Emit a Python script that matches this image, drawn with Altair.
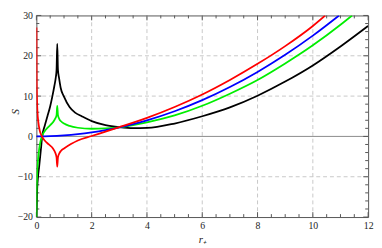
import altair as alt
import pandas as pd

# ---- data ----
red_r = [0.003, 0.006, 0.01, 0.02, 0.04, 0.07, 0.12, 0.2, 0.3, 0.45, 0.6, 0.68, 0.73, 0.755,
         0.78, 0.83, 0.9, 1.0, 1.25, 1.5, 2.0, 2.5, 3.0, 3.5, 4.0, 5.0, 6.0, 7.0, 8.0, 9.0, 10.0, 10.45]
red_S = [27.0, 21.0, 15.0, 10.0, 6.0, 3.6, 1.5, 0.0, -1.0, -2.0, -3.0, -4.0, -5.2, -7.5,
         -5.2, -4.2, -3.5, -3.0, -1.9, -1.0, 0.1, 1.2, 2.3, 3.4, 4.6, 7.3, 10.4, 14.0, 18.0, 22.4, 27.4, 30.0]

blue_r = [0.0, 0.5, 1.0, 1.5, 2.0, 2.5, 3.0, 3.5, 4.0, 5.0, 6.0, 7.0, 8.0, 9.0, 10.0, 10.95]
blue_S = [0.0, 0.06, 0.25, 0.56, 1.0, 1.56, 2.25, 3.06, 4.0, 6.25, 9.0, 12.25, 16.0, 20.25, 25.0, 30.0]

green_r = [0.003, 0.01, 0.03, 0.06, 0.1, 0.15, 0.2, 0.3, 0.4, 0.5, 0.6, 0.68, 0.73, 0.755,
           0.78, 0.83, 0.9, 1.0, 1.2, 1.5, 2.0, 2.5, 3.0, 3.5, 4.0, 5.0, 6.0, 7.0, 8.0, 9.0, 10.0, 11.0, 11.42]
green_S = [-20.0, -14.0, -9.0, -5.8, -3.2, -1.2, 0.0, 1.3, 2.1, 2.8, 3.5, 4.4, 5.3, 7.6,
           5.3, 4.3, 3.7, 3.2, 2.6, 2.15, 1.9, 2.0, 2.25, 2.8, 3.5, 5.2, 7.6, 10.6, 14.0, 18.1, 22.6, 27.7, 30.0]

black_r = [0.005, 0.03, 0.06, 0.1, 0.16, 0.21, 0.3, 0.4, 0.5, 0.58, 0.65, 0.7, 0.73, 0.755,
           0.78, 0.82, 0.88, 0.99, 1.2, 1.4, 1.64, 2.0, 2.5, 3.0, 3.5, 4.0, 5.0, 6.0, 7.0, 8.0, 9.0, 10.0, 11.0, 12.0]
black_S = [-20.0, -13.0, -10.0, -7.5, -3.5, 0.0, 2.6, 5.0, 7.5, 10.0, 12.5, 14.5, 16.5, 23.0,
           16.5, 14.5, 12.0, 10.0, 7.3, 5.9, 5.0, 3.8, 2.8, 2.3, 2.05, 2.1, 3.2, 5.0, 7.2, 10.1, 13.6, 17.6, 22.3, 27.4]

series_names = ["black", "green", "blue", "red"]
series_colors = ["#000000", "#00ee00", "#0000ff", "#ff0000"]

x_major = [0, 2, 4, 6, 8, 10, 12]
y_major = [-20, -10, 0, 10, 20, 30]
x_grid = [2, 4, 6, 8, 10]
y_grid = [-10, 10, 20]
x_minor = [v * 0.5 for v in range(0, 25) if v % 4 != 0]
y_minor = [v for v in range(-20, 31, 2) if v % 10 != 0]

rows = []
for name, xs_, ys_ in [("black", black_r, black_S), ("green", green_r, green_S),
                       ("blue", blue_r, blue_S), ("red", red_r, red_S)]:
    for i, (a, b) in enumerate(zip(xs_, ys_)):
        rows.append({"series": name, "r": a, "S": b, "i": i})
df = pd.DataFrame(rows)

W, H = 339, 206
FRAME = "#555555"
FONT = "Liberation Serif"
TXT = "#222222"

xs = alt.Scale(domain=[0, 12], nice=False, zero=False)
ys = alt.Scale(domain=[-20, 30], nice=False, zero=False)

AX = alt.Axis(
    values=x_major, ticks=False, domain=False, grid=False, labelFlush=False,
    labelFont=FONT, labelFontSize=10, labelColor=TXT, labelPadding=4,
    title="r₊", titleFont=FONT, titleFontStyle="italic", titleFontWeight="normal",
    titleFontSize=11, titleColor=TXT, titlePadding=3)
AY = alt.Axis(
    values=y_major, ticks=False, domain=False, grid=False, labelFlush=False,
    labelFont=FONT, labelFontSize=10, labelColor=TXT, labelPadding=4,
    title="S", titleFont=FONT, titleFontStyle="italic", titleFontWeight="normal",
    titleFontSize=11, titleColor=TXT, titleX=-16, titleY=H / 2 - 5)

def X(f):
    return alt.X(f, scale=xs, axis=AX, title="r₊")

def Y(f):
    return alt.Y(f, scale=ys, axis=AY, title="S")

def vdf(vals):
    return pd.DataFrame({"v": vals})

gridx = alt.Chart(vdf(x_grid)).mark_rule(color="#c8c8c8", strokeDash=[4, 3], strokeWidth=1).encode(
    x=X("v:Q"))
gridy = alt.Chart(vdf(y_grid)).mark_rule(color="#c8c8c8", strokeDash=[4, 3], strokeWidth=1).encode(
    y=Y("v:Q"))
zero = alt.Chart(vdf([0])).mark_rule(color="#8a8a8a", strokeWidth=1).encode(y=Y("v:Q"))

lines = alt.Chart(df).mark_line(strokeWidth=1.8, interpolate="monotone", clip=True).encode(
    x=X("r:Q"),
    y=Y("S:Q"),
    color=alt.Color("series:N", scale=alt.Scale(domain=series_names, range=series_colors), legend=None),
    detail="series:N",
    order="i:Q",
)

def xticks(vals, length):
    c = alt.Chart(vdf(vals)).mark_rule(color=FRAME, strokeWidth=1)
    bot = c.encode(x=X("v:Q"), y=alt.value(H - length), y2=alt.value(H))
    top = c.encode(x=X("v:Q"), y=alt.value(0), y2=alt.value(length))
    return [bot, top]

def yticks(vals, length):
    c = alt.Chart(vdf(vals)).mark_rule(color=FRAME, strokeWidth=1)
    left = c.encode(y=Y("v:Q"), x=alt.value(0), x2=alt.value(length))
    right = c.encode(y=Y("v:Q"), x=alt.value(W - length), x2=alt.value(W))
    return [left, right]

layers = [gridx, gridy, zero] + xticks(x_major, 5) + xticks(x_minor, 3) + \
         yticks(y_major, 5) + yticks(y_minor, 3) + [lines]

chart = alt.layer(*layers).properties(
    width=W, height=H,
    autosize="none",
    padding={"left": 29, "top": 5, "right": 6, "bottom": 29},
).configure_view(stroke=FRAME, strokeWidth=1)

chart.save("out.html", embed_options={"renderer": "svg", "actions": False})
